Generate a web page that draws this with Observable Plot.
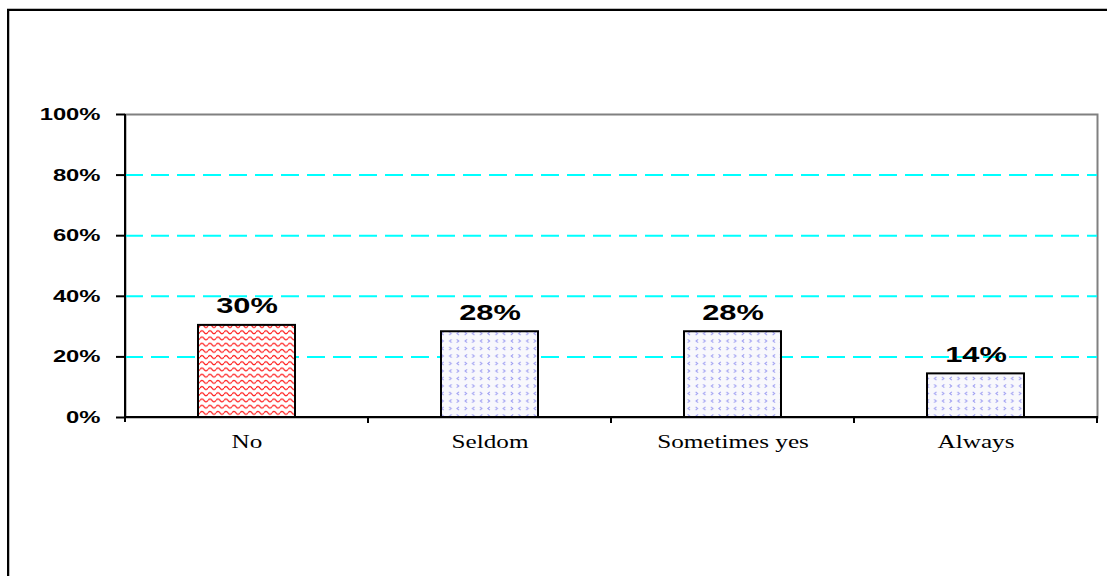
<!DOCTYPE html>
<html><head><meta charset="utf-8">
<script src="https://cdn.jsdelivr.net/npm/d3@7"></script>
<script src="https://cdn.jsdelivr.net/npm/@observablehq/plot@0.6"></script>
<style>
html,body{margin:0;padding:0;background:#fff;overflow:hidden;}
#wrap{position:relative;width:1107px;height:576px;overflow:hidden;}
#frame{position:absolute;left:7px;top:9px;width:1200px;height:700px;border:2px solid #000;box-shadow:0 -1px 0 #bdbdbd, inset 1px 0 0 #bdbdbd;}
#chart{position:absolute;left:0;top:0;}
</style></head><body>
<div id="wrap"><div id="frame"></div><div id="chart"></div></div>
<script>
const categories = ["No", "Seldom", "Sometimes yes", "Always"];
const values = [0.304, 0.283, 0.283, 0.144];
const yTicks = [0, 0.2, 0.4, 0.6, 0.8, 1];
const gridLevels = [0.2, 0.4, 0.6, 0.8];
const highlighted = ["No"];

const data = categories.map((c, i) => ({category: c, value: values[i]}));
const pct = d3.format(".0%");
const NS = "http://www.w3.org/2000/svg";

function patternDefs() {
  const defs = document.createElementNS(NS, "defs");
  defs.innerHTML = `
    <pattern id="wave" patternUnits="userSpaceOnUse" width="8" height="6.2">
      <rect width="8" height="6.2" fill="#fff"/>
      <path d="M0 3.6 Q2 0.8 4 3.6 T8 3.6" fill="none" stroke="#ff2020" stroke-width="1.3"/>
    </pattern>
    <pattern id="chev" patternUnits="userSpaceOnUse" width="15.4" height="15">
      <rect width="15.4" height="15" fill="#f8f8fc"/>
      <path d="M2.6 1.8 L4.6 3.5 L2.6 5.2" fill="none" stroke="#9a9af2" stroke-width="1"/>
      <path d="M12.4 1.8 L10.4 3.5 L12.4 5.2" fill="none" stroke="#9a9af2" stroke-width="1"/>
      <path d="M5 9.3 L3 11 L5 12.7" fill="none" stroke="#9a9af2" stroke-width="1"/>
      <path d="M10.2 9.3 L12.2 11 L10.2 12.7" fill="none" stroke="#9a9af2" stroke-width="1"/>
    </pattern>`;
  return defs;
}

function axisLines(index, scales, values, dims) {
  const x = scales.x, y = scales.y;
  const step = x.step ? x.step() : (dims.width - dims.marginLeft - dims.marginRight) / categories.length;
  const bw = x.bandwidth ? x.bandwidth() : step * 0.4;
  const left = x(categories[0]) - (step - bw) / 2;
  const right = x(categories[categories.length - 1]) + bw + (step - bw) / 2;
  const y0 = y(0), y1 = y(1);
  const g = d3.create("svg:g").attr("stroke", "#000").attr("stroke-width", 2).attr("fill", "none");
  g.append("line").attr("x1", left).attr("x2", left).attr("y1", y1).attr("y2", y0 + 5);
  g.append("line").attr("x1", left).attr("x2", right + 1).attr("y1", y0).attr("y2", y0);
  categories.forEach(c => {
    const b = x(c) + bw + (step - bw) / 2;
    g.append("line").attr("x1", b).attr("x2", b).attr("y1", y0).attr("y2", y0 + 6);
  });
  return g.node();
}

const plot = Plot.plot({
  width: 1107,
  height: 576,
  marginLeft: 125,
  marginRight: 10,
  marginTop: 114,
  marginBottom: 159,
  style: {background: "transparent", overflow: "visible", fontFamily: "'Liberation Sans', Arial, sans-serif"},
  x: {domain: categories, paddingInner: 0.6, paddingOuter: 0.3, axis: null, label: null},
  y: {domain: [0, 1], axis: null, label: null},
  marks: [
    patternDefs,
    Plot.frame({stroke: "#808080", strokeWidth: 2}),
    Plot.ruleY(gridLevels, {stroke: "#00ffff", strokeWidth: 2, strokeDasharray: "18,8"}),
    Plot.barY(data.filter(d => highlighted.includes(d.category)), {x: "category", y: "value", fill: "url(#wave)", stroke: "#000", strokeWidth: 2}),
    Plot.barY(data.filter(d => !highlighted.includes(d.category)), {x: "category", y: "value", fill: "url(#chev)", stroke: "#000", strokeWidth: 2}),
    axisLines,
    Plot.axisY(yTicks, {label: null, tickFormat: pct, tickSize: 9, tickPadding: 16, stroke: "#000", strokeWidth: 2, fontSize: 17, fontWeight: "bold", fill: "#000", fontFamily: "'Liberation Sans', Arial, sans-serif"}),
    Plot.axisX(categories, {label: null, tickSize: 0, tickPadding: 18, fontSize: 18, fill: "#000", fontFamily: "'Liberation Serif', 'Times New Roman', serif"}),
    Plot.text(data, {x: "category", y: "value", text: d => pct(d.value), dy: -12, lineAnchor: "bottom", fontSize: 22, fontWeight: "bold", fill: "#000", fontFamily: "'Liberation Sans', Arial, sans-serif"})
  ]
});

d3.select(plot).selectAll("text").each(function () {
  const t = this.getAttribute("transform") || "";
  this.setAttribute("transform", t + " scale(1.4,1)");
});

document.getElementById("chart").appendChild(plot);
</script>
</body></html>
